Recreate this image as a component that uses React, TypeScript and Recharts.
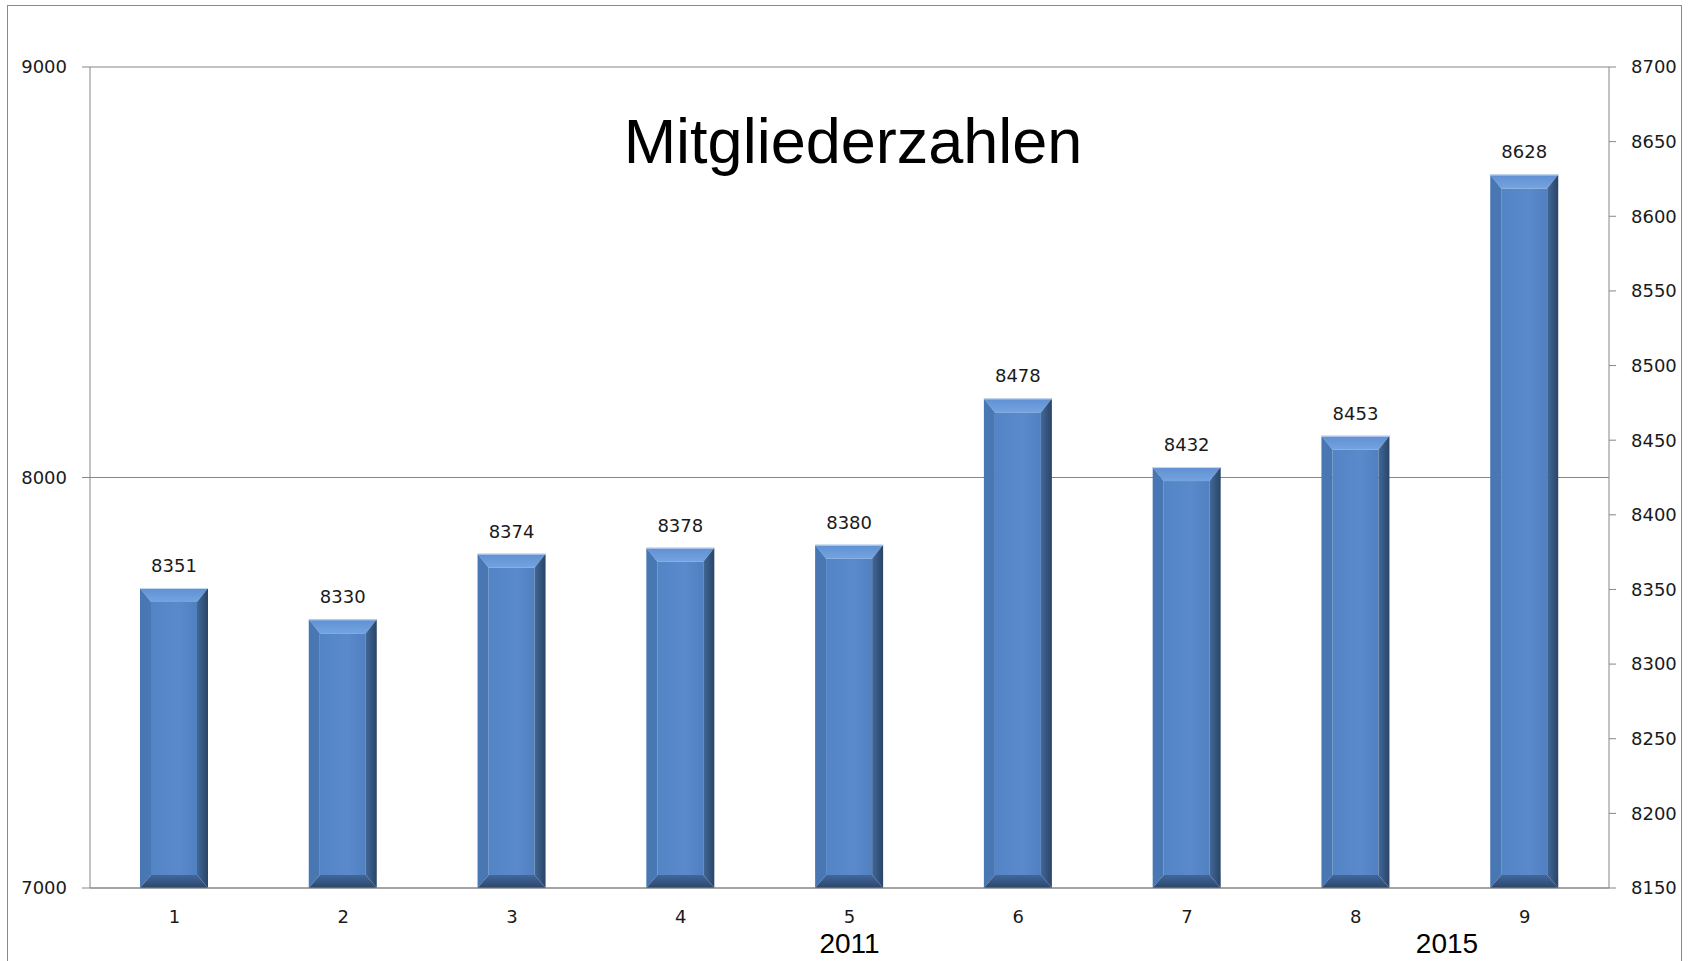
import { BarChart, Bar, XAxis, YAxis, CartesianGrid, LabelList } from 'recharts';

const categories = ['1', '2', '3', '4', '5', '6', '7', '8', '9'];
const members = [8351, 8330, 8374, 8378, 8380, 8478, 8432, 8453, 8628];
const leftTicks = [7000, 8000, 9000];
const rightTicks = [8150, 8200, 8250, 8300, 8350, 8400, 8450, 8500, 8550, 8600, 8650, 8700];
const yearLabels = [
  { year: '2011', at: 5 },
  { year: '2015', at: 8.54 },
];

const data = categories.map((name, i) => ({ name, value: members[i] }));

const W = 1690;
const H = 961;
const PLOT_LEFT = 90;
const PLOT_RIGHT = 1609;
const AXIS_GRAY = '#868686';
const TICK_FONT = { fontFamily: 'DejaVu Sans', fontSize: 18, fill: '#1a1a1a' };

// bevelled 3D look like the old Excel bars
const BevelBar = (props: any) => {
  const { x, y, width, height } = props;
  if (!height || height <= 0) return null;
  const s = Math.min(11, width / 4);
  const t = Math.min(14, height / 3);
  const bb = Math.min(13, height / 3);
  const r = x + width;
  const btm = y + height;
  return (
    <g>
      <rect x={x + s} y={y + t} width={width - 2 * s} height={height - t - bb} fill="url(#faceGrad)" />
      <polygon points={`${x},${y} ${r},${y} ${r - s},${y + t} ${x + s},${y + t}`} fill="url(#topGrad)" />
      <polygon points={`${x},${y} ${x + s},${y + t} ${x + s},${btm - bb} ${x},${btm}`} fill="#4977b4" />
      <polygon points={`${r},${y} ${r},${btm} ${r - s},${btm - bb} ${r - s},${y + t}`} fill="url(#rightGrad)" />
      <polygon points={`${x},${btm} ${x + s},${btm - bb} ${r - s},${btm - bb} ${r},${btm}`} fill="url(#bottomGrad)" />
      <line x1={x} y1={y + 0.5} x2={r} y2={y + 0.5} stroke="#c9dbf2" strokeWidth={1} />
    </g>
  );
};

export default function App() {
  const band = (PLOT_RIGHT - PLOT_LEFT) / categories.length;
  return (
    <div style={{ position: 'absolute', left: 0, top: 0, width: W, height: H, background: '#fff', overflow: 'hidden' }}>
      <div
        style={{
          position: 'absolute',
          left: 7,
          top: 5,
          width: 1675,
          height: 960,
          borderLeft: '1px solid #8a8a8a',
          borderTop: '1px solid #8a8a8a',
          borderRight: '1px solid #8a8a8a',
          boxSizing: 'border-box',
        }}
      />
      <div style={{ position: 'absolute', left: 0, top: 0 }}>
        <BarChart width={W} height={H} data={data} margin={{ top: 67, right: 0, bottom: 0, left: 0 }}>
          <defs>
            <linearGradient id="faceGrad" x1="0" y1="0" x2="1" y2="0">
              <stop offset="0%" stopColor="#5384c6" />
              <stop offset="60%" stopColor="#5a8acc" />
              <stop offset="100%" stopColor="#5080c0" />
            </linearGradient>
            <linearGradient id="topGrad" x1="0" y1="0" x2="0" y2="1">
              <stop offset="0%" stopColor="#5f90d2" />
              <stop offset="100%" stopColor="#74a3e0" />
            </linearGradient>
            <linearGradient id="rightGrad" x1="0" y1="0" x2="1" y2="0">
              <stop offset="0%" stopColor="#416899" />
              <stop offset="100%" stopColor="#2a4466" />
            </linearGradient>
            <linearGradient id="bottomGrad" x1="0" y1="0" x2="0" y2="1">
              <stop offset="0%" stopColor="#41689b" />
              <stop offset="100%" stopColor="#2c466b" />
            </linearGradient>
          </defs>
          <CartesianGrid yAxisId="left" vertical={false} stroke={AXIS_GRAY} />
          <XAxis
            dataKey="name"
            height={73}
            tickLine={false}
            tickSize={0}
            tickMargin={22}
            axisLine={{ stroke: AXIS_GRAY }}
            tick={TICK_FONT}
          />
          <YAxis
            yAxisId="left"
            orientation="left"
            width={90}
            type="number"
            domain={[7000, 9000]}
            allowDataOverflow
            ticks={leftTicks}
            tickSize={8}
            tickMargin={15}
            axisLine={{ stroke: AXIS_GRAY }}
            tickLine={{ stroke: AXIS_GRAY }}
            tick={TICK_FONT}
          />
          <YAxis
            yAxisId="right"
            orientation="right"
            width={81}
            type="number"
            domain={[8150, 8700]}
            ticks={rightTicks}
            allowDataOverflow
            tickSize={7}
            tickMargin={15}
            axisLine={{ stroke: AXIS_GRAY }}
            tickLine={{ stroke: AXIS_GRAY }}
            tick={TICK_FONT}
          />
          <Bar yAxisId="right" dataKey="value" barSize={68} shape={<BevelBar />} isAnimationActive={false}>
            <LabelList dataKey="value" position="top" offset={16} style={TICK_FONT} />
          </Bar>
        </BarChart>
      </div>
      <svg width={W} height={H} style={{ position: 'absolute', left: 0, top: 0, pointerEvents: 'none' }}>
        <text x={853} y={163} textAnchor="middle" fontFamily="Liberation Sans" fontSize={63} fill="#000">
          Mitgliederzahlen
        </text>
        {yearLabels.map((yl) => (
          <text
            key={yl.year}
            x={PLOT_LEFT + (yl.at - 0.5) * band}
            y={953}
            textAnchor="middle"
            fontFamily="Liberation Sans"
            fontSize={28}
            fill="#000"
          >
            {yl.year}
          </text>
        ))}
      </svg>
    </div>
  );
}
